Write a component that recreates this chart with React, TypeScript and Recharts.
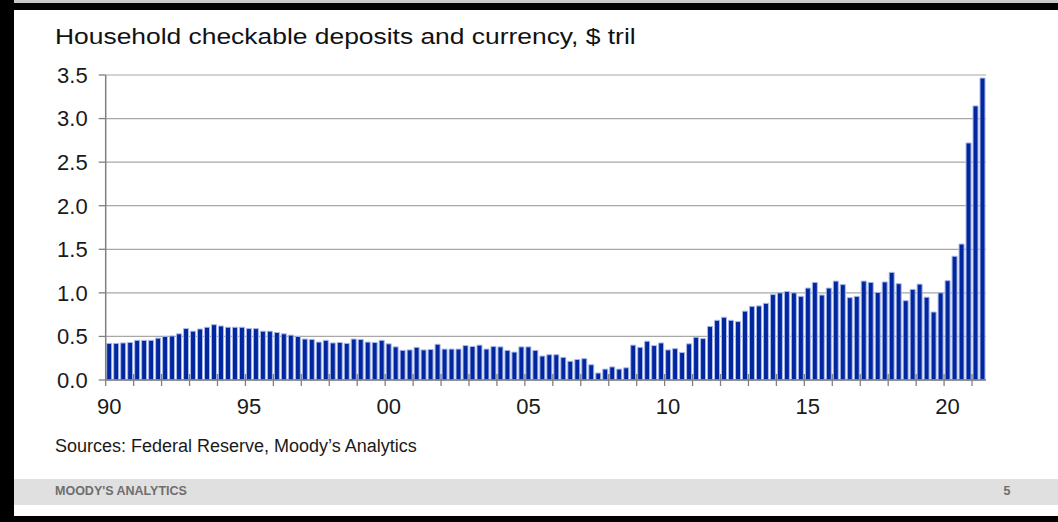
import React from "react";
import { BarChart, Bar, XAxis, YAxis, CartesianGrid } from "recharts";

// ---------- data ----------
const startYear = 1990;
const quarterCount = 126; // 1990Q1 .. 2021Q2
const categories: string[] = Array.from(
  { length: quarterCount },
  (_, i) => `${startYear + Math.floor(i / 4)}Q${(i % 4) + 1}`
);

const values1990s = [
  0.42, 0.42, 0.425, 0.43, 0.455, 0.455, 0.455, 0.48, 0.5, 0.505, 0.53, 0.59,
  0.56, 0.585, 0.605, 0.635, 0.62, 0.605, 0.605, 0.605, 0.59, 0.59, 0.56, 0.56,
  0.545, 0.53, 0.515, 0.5, 0.47, 0.465, 0.435, 0.455, 0.425, 0.43, 0.42, 0.47,
  0.465, 0.435, 0.43, 0.455,
];
const values2000s = [
  0.415, 0.38, 0.34, 0.345, 0.375, 0.345, 0.35, 0.41, 0.355, 0.355, 0.355, 0.395,
  0.385, 0.4, 0.355, 0.385, 0.38, 0.34, 0.32, 0.38, 0.38, 0.34, 0.275, 0.29,
  0.29, 0.26, 0.215, 0.235, 0.245, 0.175, 0.08, 0.125, 0.15, 0.125, 0.14, 0.4,
  0.375, 0.445, 0.395, 0.425,
];
const values2010s = [
  0.345, 0.36, 0.315, 0.415, 0.49, 0.475, 0.615, 0.685, 0.72, 0.685, 0.67, 0.79,
  0.845, 0.85, 0.88, 0.98, 1.0, 1.015, 1.0, 0.96, 1.055, 1.12, 0.975, 1.055,
  1.135, 1.095, 0.945, 0.96, 1.135, 1.12, 1.005, 1.125, 1.235, 1.105, 0.91, 1.04,
  1.1, 0.95, 0.78, 1.0,
];
const values2020s = [1.14, 1.42, 1.56, 2.72, 3.145, 3.465];

const yTicks = [0, 0.5, 1, 1.5, 2, 2.5, 3, 3.5];
const labeledYears = [1990, 1995, 2000, 2005, 2010, 2015, 2020];
const xTickLabels = ["90", "95", "00", "05", "10", "15", "20"];

const title = "Household checkable deposits and currency, $ tril";
const sourceNote = "Sources: Federal Reserve, Moody\u2019s Analytics";
const footerBrand = "MOODY'S ANALYTICS";
const pageNumber = "5";

const allValues = [...values1990s, ...values2000s, ...values2010s, ...values2020s];
const data = categories.map((q, i) => ({ q, value: allValues[i] }));
const yearStartTicks = categories.filter((c) => c.endsWith("Q1"));

// ---------- styles ----------
const FONT = "'Liberation Sans', Arial, Helvetica, sans-serif";
const X_TICK_MARGIN = 18;
const AXIS_GRAY = "#808080";

function YearTick(props: any) {
  const { x, y, payload } = props;
  const axisY = y - X_TICK_MARGIN;
  const half = payload && typeof payload.offset === "number" ? payload.offset : 0;
  const boundary = x - half;
  const year = Number(String(payload.value).slice(0, 4));
  const idx = labeledYears.indexOf(year);
  return (
    <g>
      <line
        x1={boundary}
        x2={boundary}
        y1={axisY - 6}
        y2={axisY + 6}
        stroke={AXIS_GRAY}
        strokeWidth={1.3}
      />
      {idx >= 0 && (
        <text
          x={x}
          y={y}
          dy="0.71em"
          textAnchor="middle"
          fill="#1a1a1a"
          fontSize={22}
          fontFamily={FONT}
        >
          {xTickLabels[idx]}
        </text>
      )}
    </g>
  );
}

export default function App() {
  return (
    <div
      style={{
        position: "absolute",
        left: 0,
        top: 0,
        width: 1058,
        height: 522,
        background: "#ffffff",
        overflow: "hidden",
        fontFamily: FONT,
      }}
    >
      {/* frame */}
      <div style={{ position: "absolute", left: 0, top: 0, width: 1058, height: 3, background: "#c8c8c8" }} />
      <div style={{ position: "absolute", left: 0, top: 3, width: 1058, height: 7, background: "#000" }} />
      <div style={{ position: "absolute", left: 0, top: 0, width: 14, height: 522, background: "#000" }} />
      <div style={{ position: "absolute", left: 0, top: 516, width: 1058, height: 6, background: "#000" }} />
      {/* footer band */}
      <div style={{ position: "absolute", left: 14, top: 479, width: 1044, height: 26, background: "#e0e0e0" }} />
      <div
        style={{
          position: "absolute",
          left: 55,
          top: 485.4,
          fontSize: 12.5,
          lineHeight: "13px",
          fontWeight: 700,
          color: "#6e6e6e",
          whiteSpace: "nowrap",
        }}
      >
        {footerBrand}
      </div>
      <div
        style={{
          position: "absolute",
          left: 1003.5,
          top: 485.4,
          fontSize: 12.5,
          lineHeight: "13px",
          fontWeight: 700,
          color: "#6e6e6e",
        }}
      >
        {pageNumber}
      </div>

      {/* title */}
      <div
        style={{
          position: "absolute",
          left: 55,
          top: 26.4,
          fontSize: 22,
          lineHeight: "22px",
          color: "#111",
          whiteSpace: "nowrap",
          transform: "scaleX(1.2)",
          transformOrigin: "left top",
        }}
      >
        {title}
      </div>

      {/* source */}
      <div
        style={{
          position: "absolute",
          left: 55,
          top: 436.8,
          fontSize: 18,
          lineHeight: "18px",
          color: "#1a1a1a",
          whiteSpace: "nowrap",
        }}
      >
        {sourceNote}
      </div>

      <div style={{ position: "absolute", left: 0, top: 0 }}>
        <BarChart
          width={1058}
          height={522}
          data={data}
          margin={{ top: 75, right: 72, bottom: 112, left: 45.7 }}
          barCategoryGap={0}
        >
          <CartesianGrid vertical={false} stroke="#a8a8a8" strokeWidth={1.2} />
          <XAxis
            dataKey="q"
            ticks={yearStartTicks}
            interval={0}
            tickLine={false}
            tickSize={0}
            tickMargin={X_TICK_MARGIN}
            axisLine={{ stroke: AXIS_GRAY, strokeWidth: 1.5 }}
            tick={<YearTick />}
            height={30}
          />
          <YAxis
            domain={[0, 3.5]}
            ticks={yTicks}
            interval={0}
            tickFormatter={(v: number) => v.toFixed(1)}
            tickSize={7}
            tickMargin={11}
            tickLine={{ stroke: AXIS_GRAY, strokeWidth: 1.3 }}
            axisLine={{ stroke: AXIS_GRAY, strokeWidth: 1.5 }}
            tick={{ fill: "#1a1a1a", fontSize: 22, fontFamily: FONT }}
            width={60}
          />
          <YAxis
            yAxisId="right"
            orientation="right"
            domain={[0, 3.5]}
            tick={false}
            tickLine={false}
            axisLine={{ stroke: AXIS_GRAY, strokeWidth: 1.5 }}
            width={0}
          />
          <Bar
            dataKey="value"
            fill="#0026a0"
            stroke="#a9b8e6"
            strokeWidth={1}
            barSize={5}
            isAnimationActive={false}
          />
        </BarChart>
      </div>
    </div>
  );
}
